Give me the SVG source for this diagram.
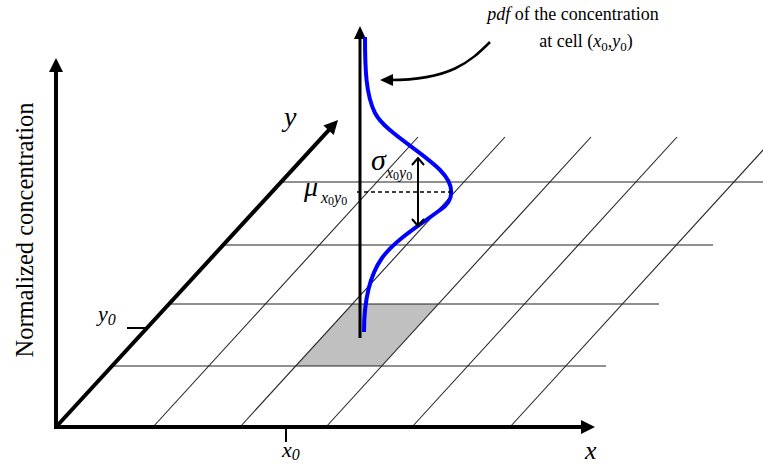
<svg xmlns="http://www.w3.org/2000/svg" width="763" height="466" viewBox="0 0 763 466" font-family="'Liberation Serif','Times New Roman',serif">
<style>
text,tspan{font-family:"Liberation Serif","Times New Roman",serif}
text{fill:#000}
.it{font-style:italic}
.grid{stroke:#222;stroke-width:1.1;fill:none}
.axis{stroke:#000;stroke-width:4;fill:none}
.thin{stroke:#000;stroke-width:2;fill:none}
</style>
<defs>
<marker id="ah" markerUnits="userSpaceOnUse" markerWidth="14" markerHeight="14" refX="3" refY="7" orient="auto" overflow="visible"><path d="M0,0 L14,7 L0,14 z" fill="#000"/></marker>
<marker id="ahs" markerUnits="userSpaceOnUse" markerWidth="13" markerHeight="12" refX="3" refY="6" orient="auto" overflow="visible"><path d="M0,0 L13,6 L0,12 z" fill="#000"/></marker>
<marker id="oh" markerUnits="userSpaceOnUse" markerWidth="10" markerHeight="14" refX="8" refY="7" orient="auto-start-reverse" overflow="visible"><path d="M1,1 L8,7 L1,13" fill="none" stroke="#000" stroke-width="2"/></marker>
</defs>
<rect width="763" height="466" fill="#fff"/>

<g id="cell">
<polygon points="295.8,366 381.8,366 438.4,304 352.4,304" fill="#c0c0c0"/>
</g>

<g id="grid">
<line class="grid" x1="280" y1="182" x2="763" y2="182"/>
<line class="grid" x1="223" y1="245" x2="713" y2="245"/>
<line class="grid" x1="169" y1="304" x2="659" y2="304"/>
<line class="grid" x1="112" y1="366" x2="606" y2="366"/>
<line class="grid" x1="153" y1="427" x2="418" y2="137"/>
<line class="grid" x1="240" y1="427" x2="505" y2="137"/>
<line class="grid" x1="326" y1="427" x2="591" y2="137"/>
<line class="grid" x1="412" y1="427" x2="677" y2="137"/>
<line class="grid" x1="510" y1="427" x2="775" y2="137"/>
</g>

<g id="axes">
<line class="axis" x1="56" y1="429" x2="56" y2="69" marker-end="url(#ah)"/>
<line class="axis" x1="54" y1="427" x2="584" y2="427" marker-end="url(#ah)"/>
<line class="axis" x1="56" y1="427" x2="330.6" y2="128.1" marker-end="url(#ah)"/>
<line class="thin" x1="127" y1="328" x2="146" y2="328"/>
<line class="thin" x1="286" y1="427" x2="286" y2="442"/>
</g>

<g id="pdf">
<line x1="360" y1="338" x2="360" y2="36" stroke="#000" stroke-width="3" marker-end="url(#ahs)"/>
<path d="M365,37 C365,70 366,95 375,113 C385,132 420,150 440,170 C455,185 455,200 440,210 C420,225 395,240 382,258 C370,275 364,300 364,332" fill="none" stroke="#0000ff" stroke-width="4"/>
<line x1="357" y1="192" x2="452" y2="192" stroke="#000" stroke-width="1.5" stroke-dasharray="4,3"/>
<line class="thin" x1="418" y1="158" x2="418" y2="226" marker-start="url(#oh)" marker-end="url(#oh)"/>
</g>

<g id="connectors">
<path d="M490,42 C470,62 450,80 390,80" fill="none" stroke="#000" stroke-width="2.5" marker-end="url(#ahs)"/>
</g>

<g id="labels">
<text x="33" y="0" font-size="24.5" text-anchor="middle" transform="translate(33,230) rotate(-90) translate(-33,0)">Normalized concentration</text>
<text x="284" y="126" font-size="28" class="it">y</text>
<text x="585" y="459" font-size="26" class="it">x</text>
<text x="98" y="321" font-size="22" class="it">y<tspan font-size="16" dy="4">0</tspan></text>
<text x="282" y="457" font-size="22" class="it">x<tspan font-size="16" dy="3">0</tspan></text>
<text x="371" y="170" font-size="30" class="it">σ</text>
<text x="386" y="178" font-size="16"><tspan class="it">x</tspan><tspan font-size="12" dy="2">0</tspan><tspan class="it" dy="-2">y</tspan><tspan font-size="12" dy="2">0</tspan></text>
<text x="304" y="196" font-size="28" class="it">μ</text>
<text x="321" y="203" font-size="16"><tspan class="it">x</tspan><tspan font-size="12" dy="2">0</tspan><tspan class="it" dy="-2">y</tspan><tspan font-size="12" dy="2">0</tspan></text>
<text x="573" y="20" font-size="18" text-anchor="middle"><tspan class="it">pdf</tspan> of the concentration</text>
<text x="586" y="47" font-size="18" text-anchor="middle">at cell (<tspan class="it">x</tspan><tspan font-size="13" dy="4">0</tspan><tspan dy="-4">,</tspan><tspan class="it">y</tspan><tspan font-size="13" dy="4">0</tspan><tspan dy="-4">)</tspan></text>
</g>
</svg>
